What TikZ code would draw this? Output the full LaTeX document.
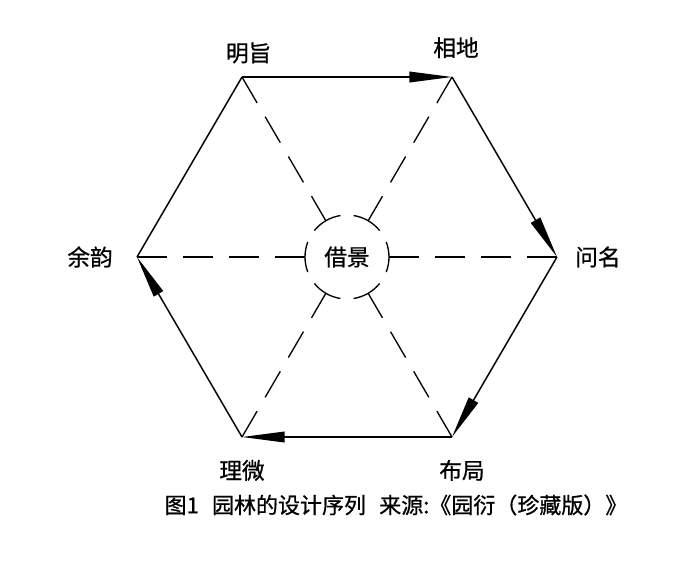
\documentclass[tikz,border=0pt]{standalone}
\usepackage{fontspec}
\newfontfamily\cjk[FakeBold=0.8]{Noto Sans CJK SC}
\usetikzlibrary{arrows.meta, positioning}
\tikzset{
  edgeline/.style={line width=1.1pt, black},
  flowarrow/.style={
    edgeline, -{Triangle[length=32pt, width=8pt]}
  },
  spoke/.style={
    line width=1pt, dash pattern=on 22.5pt off 12pt,
    shorten >=31.5pt
  },
  ringarc/.style={line width=1pt},
  vlabel/.style={
    font=\cjk\fontsize{17}{19}\selectfont, inner sep=0pt
  },
  captiontext/.style={
    font=\cjk\fontsize{16.5}{18}\selectfont, inner sep=0pt
  },
}

\begin{document}
\begin{tikzpicture}[x=0.75pt, y=-0.75pt]
  \useasboundingbox (0,0) rectangle (700,562);

  % Vertices
  \coordinate (centre) at (347,257);
  \coordinate (mingzhi) at (242,77);
  \coordinate (xiangdi) at (452,77);
  \coordinate (wenming) at (557,257);
  \coordinate (buju) at (452,437);
  \coordinate (liwei) at (242,437);
  \coordinate (yuyun) at (137,257);

  % Labels
  \node[vlabel, above=10pt of mingzhi, xshift=5pt] (mingzhilabel) {明旨};
  \node[vlabel, above=14pt of xiangdi, xshift=3pt] (xiangdilabel) {相地};
  \node[vlabel, right=13.5pt of wenming] (wenminglabel) {问名};
  \node[vlabel, below=17pt of buju, xshift=7.5pt] (bujulabel) {布局};
  \node[vlabel, below=17pt of liwei] (liweilabel) {理微};
  \node[vlabel, left=18pt of yuyun] (yuyunlabel) {余韵};
  \node[vlabel] (jiejing) at (centre) {借景};

  % Sequence round the hexagon
  \draw[flowarrow] (mingzhi) -- (xiangdi);
  \draw[flowarrow] (xiangdi) -- (wenming);
  \draw[flowarrow] (wenming) -- (buju);
  \draw[flowarrow] (buju) -- (liwei);
  \draw[flowarrow] (liwei) -- (yuyun);
  \draw[edgeline] (yuyun) -- (mingzhi);

  % Spokes to the centre
  \foreach \v in {mingzhi,xiangdi,wenming,buju,liwei,yuyun}
    \draw[spoke] (\v) -- (centre);

  % Broken ring
  \foreach \a in {0,60,...,300}
    \draw[ringarc] ([shift={(\a+21:42)}]centre)
      arc[start angle=\a+21, end angle=\a-21, radius=42];

  % Caption
  \node[captiontext] (caption) at (396,505)
    {图1\hspace{0.6em}园林的设计序列\hspace{0.6em}来源:《园衍（珍藏版）》};
\end{tikzpicture}
\end{document}
